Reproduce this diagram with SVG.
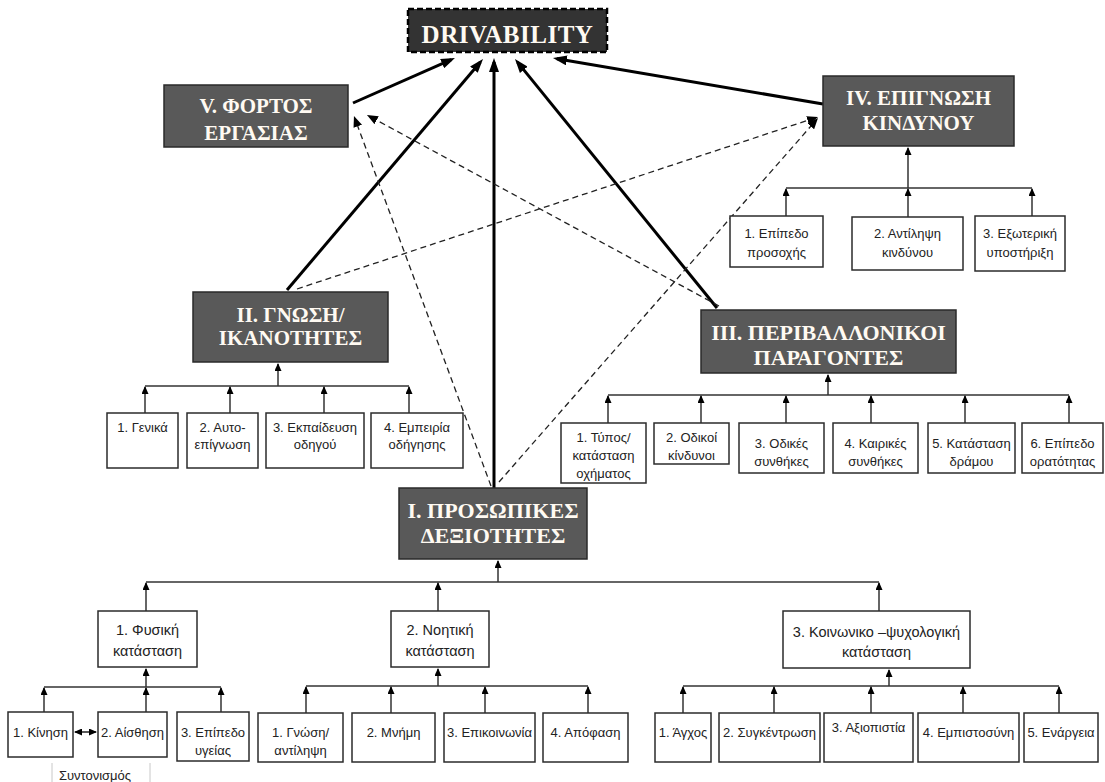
<svg xmlns="http://www.w3.org/2000/svg" width="1105" height="782" viewBox="0 0 1105 782">
<style>
.dk{fill:#595959;stroke:#2a2a2a;stroke-width:1.5}
.dt{font-family:"Liberation Serif","Times New Roman",serif;font-weight:bold;font-size:22px;fill:#fffaf2;text-anchor:middle}
.bx{fill:#fff;stroke:#2b2b2b;stroke-width:1.5}
.st{font-family:"Liberation Sans",Arial,sans-serif;font-size:13px;fill:#222;text-anchor:middle}
.mt{font-family:"Liberation Sans",Arial,sans-serif;font-size:14.5px;fill:#222;text-anchor:middle}
.big{stroke:#000;stroke-width:3;fill:none;marker-end:url(#ab)}
.dsh{stroke:#222;stroke-width:1.3;stroke-dasharray:6,4;fill:none;marker-end:url(#ad)}
.hl{stroke:#333;stroke-width:1.5;fill:none}
.ha{stroke:#333;stroke-width:1.5;fill:none;marker-end:url(#as)}
</style>
<defs>
<marker id="ab" viewBox="0 0 14 10" refX="10" refY="5" markerWidth="14" markerHeight="10" markerUnits="userSpaceOnUse" orient="auto"><path d="M0,0 L14,5 L0,10 z" fill="#000"/></marker>
<marker id="ad" viewBox="0 0 11 9" refX="8" refY="4.5" markerWidth="11" markerHeight="9" markerUnits="userSpaceOnUse" orient="auto"><path d="M0,0 L11,4.5 L0,9 z" fill="#000"/></marker>
<marker id="as" viewBox="0 0 8 7" refX="7" refY="3.5" markerWidth="8" markerHeight="7" markerUnits="userSpaceOnUse" orient="auto"><path d="M0,0 L8,3.5 L0,7 z" fill="#000"/></marker>
<marker id="asb" viewBox="0 0 8 7" refX="1" refY="3.5" markerWidth="8" markerHeight="7" markerUnits="userSpaceOnUse" orient="auto"><path d="M8,0 L0,3.5 L8,7 z" fill="#000"/></marker>
</defs>
<rect width="1105" height="782" fill="#fff"/>

<g id="connectors">
<!-- main solid arrows to DRIVABILITY -->
<path class="big" d="M353,103 L451.3,59.6"/>
<path class="big" d="M287,290 L480.4,62"/>
<path class="big" d="M494,488 L494,62"/>
<path class="big" d="M717,308 L517.5,62.1"/>
<path class="big" d="M823,104 L556.9,58.7"/>
<!-- dashed arrows -->
<path class="dsh" d="M491,486 L355,118.8"/>
<path class="dsh" d="M719,306 L369.6,116.4"/>
<path class="dsh" d="M297,289 L815.2,117.9"/>
<path class="dsh" d="M499,482 L816,120.3"/>
<!-- II hierarchy -->
<path class="hl" d="M145,386 H409"/>
<path class="ha" d="M278,386 V364"/>
<path class="ha" d="M145,413 V387"/>
<path class="ha" d="M230,413 V387"/>
<path class="ha" d="M324,413 V387"/>
<path class="ha" d="M409,413 V387"/>
<!-- III hierarchy -->
<path class="hl" d="M608,395 H1069"/>
<path class="ha" d="M828,395 V375"/>
<path class="ha" d="M608,423 V396"/>
<path class="ha" d="M701,423 V396"/>
<path class="ha" d="M786,423 V396"/>
<path class="ha" d="M871,423 V396"/>
<path class="ha" d="M965,423 V396"/>
<path class="ha" d="M1069,423 V396"/>
<!-- IV hierarchy -->
<path class="hl" d="M786,188 H1032"/>
<path class="ha" d="M908,188 V148"/>
<path class="ha" d="M786,216 V189"/>
<path class="ha" d="M908,217 V189"/>
<path class="ha" d="M1032,216 V189"/>
<!-- I hierarchy -->
<path class="hl" d="M146,582 H879"/>
<path class="ha" d="M498,582 V561"/>
<path class="ha" d="M146,611 V583"/>
<path class="ha" d="M438,611 V583"/>
<path class="ha" d="M879,611 V583"/>
<!-- Physical -->
<path class="hl" d="M44,687 H221"/>
<path class="ha" d="M146,687 V669"/>
<path class="ha" d="M44,712 V688"/>
<path class="ha" d="M146,712 V688"/>
<path class="ha" d="M221,712 V688"/>
<!-- Mental -->
<path class="hl" d="M306,686 H588"/>
<path class="ha" d="M438,686 V669"/>
<path class="ha" d="M306,713 V687"/>
<path class="ha" d="M391,713 V687"/>
<path class="ha" d="M485,713 V687"/>
<path class="ha" d="M588,713 V687"/>
<!-- Social-psychological -->
<path class="hl" d="M683,686 H1059"/>
<path class="ha" d="M889,686 V670"/>
<path class="ha" d="M683,713 V687"/>
<path class="ha" d="M774,713 V687"/>
<path class="ha" d="M871,713 V687"/>
<path class="ha" d="M963,713 V687"/>
<path class="ha" d="M1059,713 V687"/>
<!-- coordination double arrow -->
<path d="M75,732 H96" stroke="#222" stroke-width="1.5" marker-start="url(#asb)" marker-end="url(#as)"/>
<path d="M52,763 V782 M150,763 V782" stroke="#c8c8c8" stroke-width="1"/>
</g>

<g id="drivability">
<rect x="408" y="9" width="199" height="43" fill="#333" stroke="#000" stroke-width="2.5" stroke-dasharray="6,3"/>
<text class="dt" x="507.5" y="43" style="font-size:25px;letter-spacing:0.5px">DRIVABILITY</text>
</g>
<g id="n-v">
<rect class="dk" x="164" y="85" width="184" height="62"/>
<text class="dt" x="256" y="113" style="font-size:21px">V. ΦΟΡΤΟΣ</text>
<text class="dt" x="256" y="140" style="font-size:21px">ΕΡΓΑΣΙΑΣ</text>
</g>
<g id="n-iv">
<rect class="dk" x="823" y="76" width="191" height="70"/>
<text class="dt" x="918.5" y="105" style="font-size:21px">IV. ΕΠΙΓΝΩΣΗ</text>
<text class="dt" x="918.5" y="130" style="font-size:21px">ΚΙΝΔΥΝΟΥ</text>
</g>
<g id="n-ii">
<rect class="dk" x="193" y="292" width="195" height="70"/>
<text class="dt" x="290.5" y="322" style="font-size:21px">II. ΓΝΩΣΗ/</text>
<text class="dt" x="290.5" y="345" style="font-size:21px">ΙΚΑΝΟΤΗΤΕΣ</text>
</g>
<g id="n-iii">
<rect class="dk" x="701" y="310" width="255" height="63"/>
<text class="dt" x="828.5" y="340">III. ΠΕΡΙΒΑΛΛΟΝΙΚΟΙ</text>
<text class="dt" x="828.5" y="365">ΠΑΡΑΓΟΝΤΕΣ</text>
</g>
<g id="n-i">
<rect class="dk" x="399" y="488" width="188" height="71"/>
<text class="dt" x="493" y="518">I. ΠΡΟΣΩΠΙΚΕΣ</text>
<text class="dt" x="493" y="543">ΔΕΞΙΟΤΗΤΕΣ</text>
</g>

<!-- II children -->
<g id="ii-1"><rect class="bx" x="107" y="413" width="71" height="55"/><text class="st" x="142.5" y="432">1. Γενικά</text></g>
<g id="ii-2"><rect class="bx" x="187" y="413" width="71" height="55"/><text class="st" x="222.5" y="432">2. Αυτο-</text><text class="st" x="222.5" y="449">επίγνωση</text></g>
<g id="ii-3"><rect class="bx" x="266" y="413" width="98" height="55"/><text class="st" x="315" y="432">3. Εκπαίδευση</text><text class="st" x="315" y="449">οδηγού</text></g>
<g id="ii-4"><rect class="bx" x="371" y="413" width="92" height="55"/><text class="st" x="417" y="432">4. Εμπειρία</text><text class="st" x="417" y="449">οδήγησης</text></g>

<!-- IV children -->
<g id="iv-1"><rect class="bx" x="730" y="216" width="93" height="51"/><text class="st" x="776.5" y="238">1. Επίπεδο</text><text class="st" x="776.5" y="257">προσοχής</text></g>
<g id="iv-2"><rect class="bx" x="852" y="217" width="111" height="53"/><text class="st" x="907.5" y="238">2. Αντίληψη</text><text class="st" x="907.5" y="257">κινδύνου</text></g>
<g id="iv-3"><rect class="bx" x="975" y="216" width="90" height="55"/><text class="st" x="1020" y="238">3. Εξωτερική</text><text class="st" x="1020" y="257">υποστήριξη</text></g>

<!-- III children -->
<g id="iii-1"><rect class="bx" x="561" y="423" width="85" height="60"/><text class="st" x="603.5" y="442">1. Τύπος/</text><text class="st" x="603.5" y="460">κατάσταση</text><text class="st" x="603.5" y="478">οχήματος</text></g>
<g id="iii-2"><rect class="bx" x="654" y="423" width="75" height="41"/><text class="st" x="691.5" y="442">2. Οδικοί</text><text class="st" x="691.5" y="460">κίνδυνοι</text></g>
<g id="iii-3"><rect class="bx" x="739" y="423" width="85" height="50"/><text class="st" x="781.5" y="448">3. Οδικές</text><text class="st" x="781.5" y="466">συνθήκες</text></g>
<g id="iii-4"><rect class="bx" x="833" y="423" width="85" height="50"/><text class="st" x="875.5" y="448">4. Καιρικές</text><text class="st" x="875.5" y="466">συνθήκες</text></g>
<g id="iii-5"><rect class="bx" x="928" y="423" width="87" height="50"/><text class="st" x="971.5" y="448">5. Κατάσταση</text><text class="st" x="971.5" y="466">δράμου</text></g>
<g id="iii-6"><rect class="bx" x="1022" y="423" width="81" height="50"/><text class="st" x="1062.5" y="448">6. Επίπεδο</text><text class="st" x="1062.5" y="466">ορατότητας</text></g>

<!-- I children -->
<g id="i-1"><rect class="bx" x="98" y="611" width="99" height="56"/><text class="mt" x="147.5" y="635">1. Φυσική</text><text class="mt" x="147.5" y="656">κατάσταση</text></g>
<g id="i-2"><rect class="bx" x="391" y="611" width="98" height="56"/><text class="mt" x="440" y="635">2. Νοητική</text><text class="mt" x="440" y="656">κατάσταση</text></g>
<g id="i-3"><rect class="bx" x="783" y="611" width="187" height="57"/><text class="mt" x="876.5" y="637">3. Κοινωνικο –ψυχολογική</text><text class="mt" x="876.5" y="657">κατάσταση</text></g>

<!-- bottom level -->
<g id="p-1"><rect class="bx" x="8" y="712" width="65" height="45"/><text class="st" x="40.5" y="737">1. Κίνηση</text></g>
<g id="p-2"><rect class="bx" x="98" y="712" width="69" height="45"/><text class="st" x="132.5" y="737">2. Αίσθηση</text></g>
<g id="p-3"><rect class="bx" x="177" y="712" width="72" height="49"/><text class="st" x="213" y="737">3. Επίπεδο</text><text class="st" x="213" y="755">υγείας</text></g>
<g id="coord"><text class="st" x="95" y="780">Συντονισμός</text></g>
<g id="m-1"><rect class="bx" x="258" y="713" width="85" height="49"/><text class="st" x="300.5" y="737">1. Γνώση/</text><text class="st" x="300.5" y="755">αντίληψη</text></g>
<g id="m-2"><rect class="bx" x="352" y="713" width="83" height="49"/><text class="st" x="393.5" y="737">2. Μνήμη</text></g>
<g id="m-3"><rect class="bx" x="444" y="713" width="91" height="49"/><text class="st" x="489.5" y="737">3. Επικοινωνία</text></g>
<g id="m-4"><rect class="bx" x="543" y="713" width="85" height="49"/><text class="st" x="585.5" y="737">4. Απόφαση</text></g>
<g id="s-1"><rect class="bx" x="655" y="713" width="56" height="49"/><text class="st" x="683" y="737">1. Άγχος</text></g>
<g id="s-2"><rect class="bx" x="719" y="713" width="101" height="49"/><text class="st" x="769.5" y="737">2. Συγκέντρωση</text></g>
<g id="s-3"><rect class="bx" x="824" y="713" width="89" height="49"/><text class="st" x="868.5" y="732">3. Αξιοπιστία</text></g>
<g id="s-4"><rect class="bx" x="918" y="713" width="101" height="49"/><text class="st" x="968.5" y="737">4. Εμπιστοσύνη</text></g>
<g id="s-5"><rect class="bx" x="1024" y="713" width="74" height="49"/><text class="st" x="1061" y="737">5. Ενάργεια</text></g>
</svg>
